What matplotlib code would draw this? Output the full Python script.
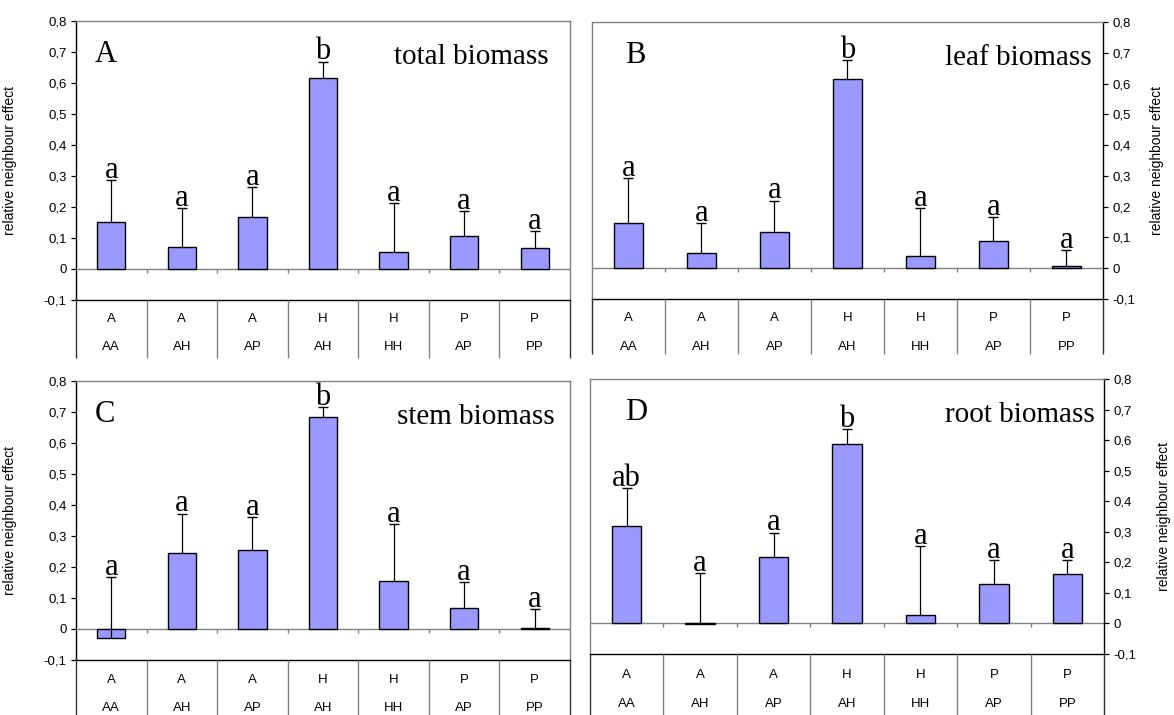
import numpy as np
import matplotlib.pyplot as plt

# categories (two label rows under each panel)
cat_top = ['A', 'A', 'A', 'H', 'H', 'P', 'P']
cat_bottom = ['AA', 'AH', 'AP', 'AH', 'HH', 'AP', 'PP']

ytick_vals = [-0.1, 0, 0.1, 0.2, 0.3, 0.4, 0.5, 0.6, 0.7, 0.8]
ytick_labels = ['-0,1', '0', '0,1', '0,2', '0,3', '0,4', '0,5', '0,6', '0,7', '0,8']

total_mean = [0.151, 0.071, 0.168, 0.617, 0.054, 0.105, 0.068]
total_err = [0.136, 0.124, 0.095, 0.052, 0.157, 0.080, 0.052]
total_sig = ['a', 'a', 'a', 'b', 'a', 'a', 'a']

leaf_mean = [0.147, 0.048, 0.119, 0.614, 0.040, 0.090, 0.008]
leaf_err = [0.146, 0.099, 0.101, 0.061, 0.155, 0.075, 0.050]
leaf_sig = ['a', 'a', 'a', 'b', 'a', 'a', 'a']

stem_mean = [-0.031, 0.246, 0.253, 0.684, 0.154, 0.066, 0.003]
stem_err = [0.197, 0.126, 0.109, 0.033, 0.185, 0.085, 0.060]
stem_sig = ['a', 'a', 'a', 'b', 'a', 'a', 'a']

root_mean = [0.317, -0.003, 0.216, 0.586, 0.028, 0.128, 0.160]
root_err = [0.125, 0.166, 0.081, 0.049, 0.224, 0.079, 0.047]
root_sig = ['ab', 'a', 'a', 'b', 'a', 'a', 'a']

W, H = 1174, 715
SANS = 'Liberation Sans'
SERIF = 'Liberation Serif'
BAR = '#9999ff'
GREY = '#808080'

fig = plt.figure(figsize=(W / 100, H / 100), dpi=100)


def px_axes(left, top, right, bottom):
    return fig.add_axes([left / W, 1 - bottom / H, (right - left) / W, (bottom - top) / H])


def panel(mean, err, sig, letter, title, box, side, rows, letter_dx, title_dx):
    left, top, right, bottom, tbottom = box
    ax = px_axes(left, top, right, bottom)
    mean = np.array(mean)
    err = np.array(err)
    x = np.arange(len(mean))

    ax.bar(x, mean, width=0.4, color=BAR, edgecolor='black', linewidth=1.0, zorder=2)
    ax.vlines(x, mean, mean + err, color='black', lw=0.9, zorder=3)
    ax.plot(x, mean + err, ls='none', marker='_', ms=7, mew=1.0, color='black', zorder=3)
    ax.axhline(0, color=GREY, lw=1, zorder=1)
    ax.vlines(np.arange(0.5, len(mean) - 1), -0.013, 0, color=GREY, lw=1)
    for xi, yi, s in zip(x, mean + err, sig):
        ax.annotate(s, (xi, yi), xytext=(0, 1.5), textcoords='offset points',
                    ha='center', va='baseline', fontsize=22, family=SERIF)

    ax.set_xlim(-0.5, len(mean) - 0.5)
    ax.set_ylim(-0.1, 0.8)
    ax.set_xticks([])
    ax.set_yticks(ytick_vals)
    ax.set_yticklabels(ytick_labels, fontsize=9.5, family=SANS)
    for sp in ax.spines.values():
        sp.set_color(GREY)
        sp.set_linewidth(1)
    ax.spines['bottom'].set_color('black')
    ax.spines[side].set_color('black')
    ax.tick_params(axis='y', direction='out', length=3.6, width=0.9, pad=3)
    if side == 'right':
        ax.yaxis.tick_right()
        ax.yaxis.set_label_position('right')
    ax.set_ylabel('relative neighbour effect', fontsize=10, family=SANS)
    ax.yaxis.set_label_coords(*rows[2])

    wpx = right - left
    hpx = bottom - top
    ax.text(letter_dx / wpx, 1 - 41 / hpx, letter, transform=ax.transAxes,
            fontsize=22, family=SERIF, ha='left', va='baseline')
    ax.text(1 - title_dx / wpx, 1 - 43 / hpx, title, transform=ax.transAxes,
            fontsize=21, family=SERIF, ha='right', va='baseline')

    # category table under the plot
    tax = px_axes(left, bottom, right, tbottom)
    tax.set_xlim(-0.5, len(mean) - 0.5)
    tax.set_ylim(tbottom - bottom, 0)
    tax.axis('off')
    edges = np.arange(-0.5, len(mean))
    tax.vlines(edges[1:-1], 0, tbottom - bottom, color=GREY, lw=1, clip_on=False)
    tax.vlines(edges[[0, -1]], 0, tbottom - bottom, color='#333333', lw=1, clip_on=False)
    for xi, a, b in zip(x, cat_top, cat_bottom):
        tax.text(xi, rows[0], a, ha='center', va='center', fontsize=9.5, family=SANS)
        tax.text(xi, rows[1], b, ha='center', va='center', fontsize=9.5, family=SANS)
    return ax


panel(total_mean, total_err, total_sig, 'A', 'total biomass',
      (76, 21, 570, 299.5, 357.5), 'left', (20, 48, (-0.119, 0.5)), 19, 21)
panel(leaf_mean, leaf_err, leaf_sig, 'B', 'leaf biomass',
      (592, 22, 1103, 299, 354), 'right', (19, 48, (1.092, 0.5)), 33, 11)
panel(stem_mean, stem_err, stem_sig, 'C', 'stem biomass',
      (76, 381, 570, 659.7, 716), 'left', (20, 48, (-0.119, 0.5)), 19, 15)
panel(root_mean, root_err, root_sig, 'D', 'root biomass',
      (590, 379, 1104, 653.7, 716), 'right', (21, 50, (1.103, 0.5)), 35, 9)

plt.savefig('out.png', dpi=100)
